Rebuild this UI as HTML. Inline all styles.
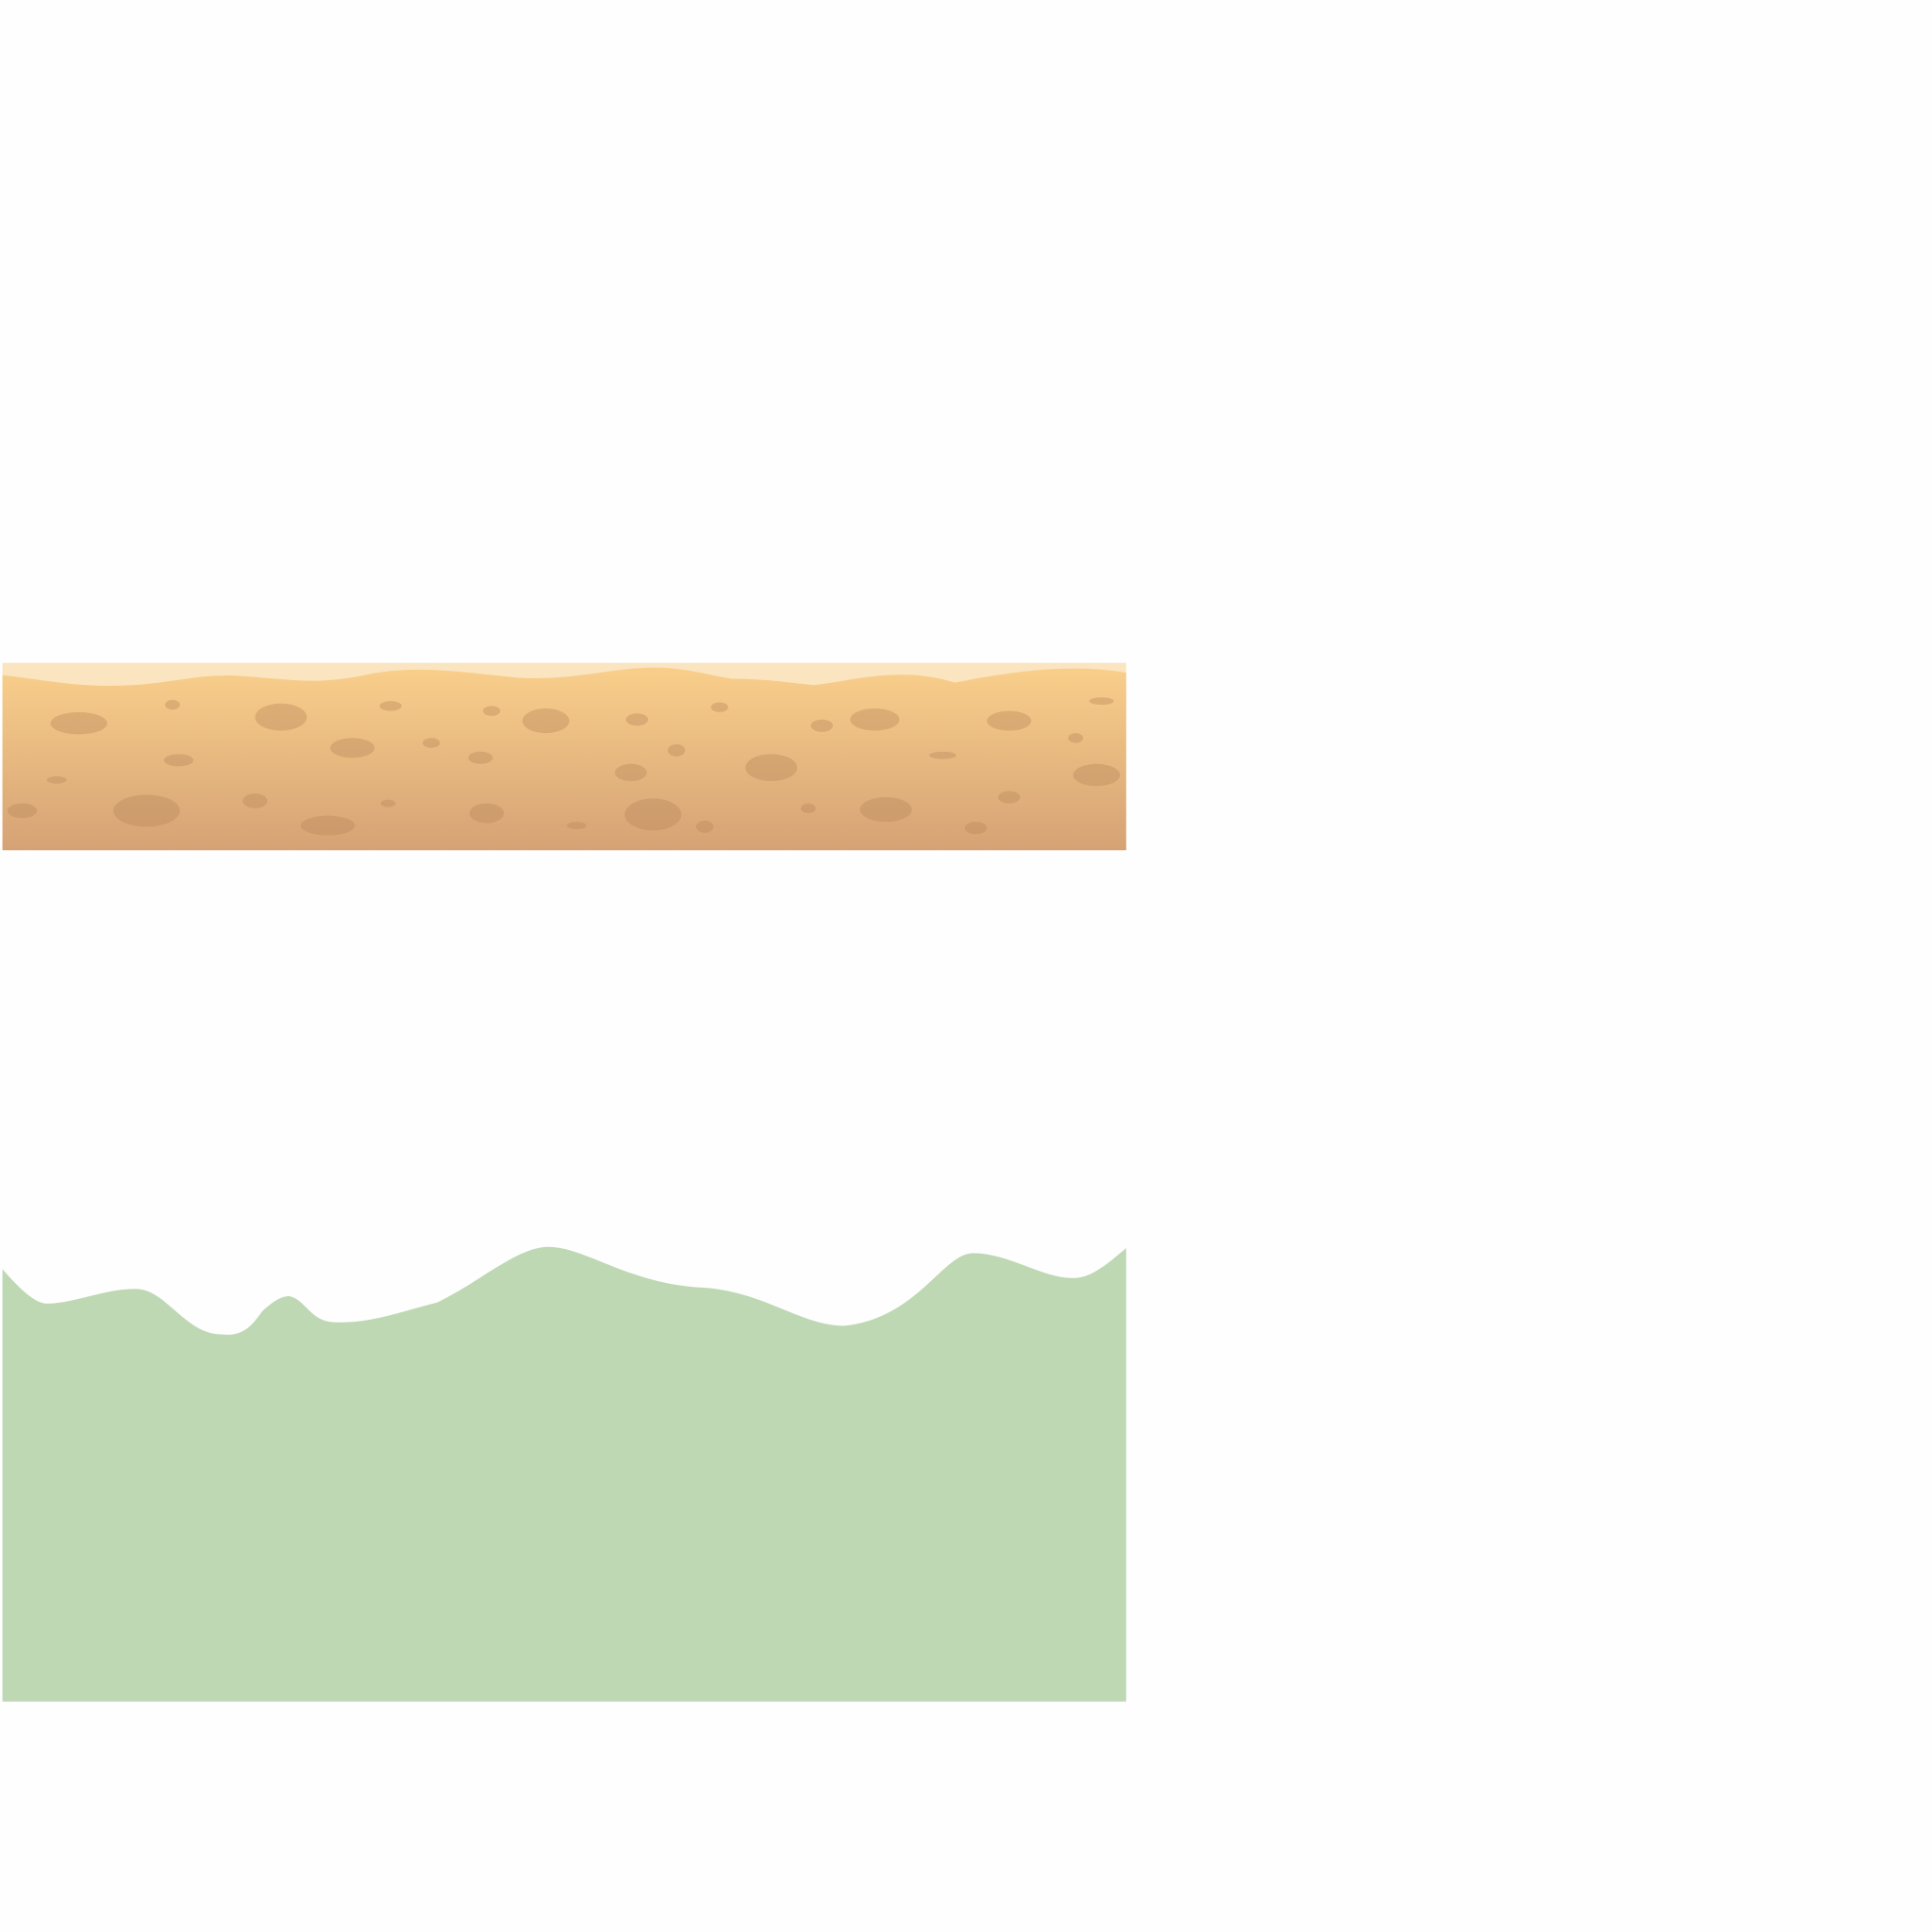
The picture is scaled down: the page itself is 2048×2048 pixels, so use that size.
<!DOCTYPE html>
<html><head><meta charset="utf-8"><style>
html,body{margin:0;padding:0;background:#fefefe;}
svg{display:block;}
</style></head><body>
<svg width="2048" height="2048" viewBox="0 0 2048 2048">
<defs>
<linearGradient id="sand" x1="0" y1="0" x2="0" y2="1">
<stop offset="0" stop-color="#f9cf8b"/>
<stop offset="1" stop-color="#d5a275"/>
</linearGradient>
</defs>
<g transform="scale(1.30612)">
<g>
<rect x="2" y="538" width="912" height="152" fill="#fbe4c0"/>
<path d="M2,548 C40,552 70,560 120,555 C150,552 170,546 200,549 C240,552 260,556 300,547 C340,540 370,545 420,550 C470,553 500,540 540,542 C565,544 580,549 595,551 C620,551 640,554 660,556 C690,553 730,540 775,554 C820,545 870,538 914,546 L914,690 L2,690 Z" fill="url(#sand)"/>
<g id="craters"></g>
</g>
<path fill="#bed8b4" d="M2,1030 C15,1045 28,1058 38,1058 C60,1058 85,1046 110,1046 C135,1046 150,1083 180,1083 C198,1085 205,1075 213,1064 C222,1056 228,1052 235,1052 C248,1055 252,1072 270,1073 C300,1075 330,1063 355,1057 C390,1040 420,1012 445,1012 C475,1012 510,1042 570,1045 C620,1048 650,1076 685,1076 C745,1070 765,1017 790,1017 C820,1017 850,1040 875,1037 C890,1035 905,1020 914,1013 L914,1381 L2,1381 Z"/>
</g>
</svg>
<script>
const cx=[64,140,228,317,399,443,517,584,667,710,819,894,145,286,350,390,549,626,512,765,873,890,46,18,119,207,266,315,395,468,530,572,656,719,819,792];
const cy=[587,572,582,573,577,585,584,574,589,584,585,569,617,607,603,615,609,623,627,613,599,629,633,658,658,650,670,652,660,670,661,671,656,657,647,672];
const rx=[23,6,21,9,7,19,9,7,9,20,18,10,12,18,7,10,7,21,13,11,6,19,8,12,27,10,22,6,14,8,23,7,6,21,9,9];
const ry=[9,4,11,4,4,10,5,4,5,9,8,3,5,8,4,5,5,11,7,3,4,9,3,6,13,6,8,3,8,3,13,5,4,10,5,5];
const g=document.getElementById('craters');
for(let i=0;i<cx.length;i++){
  const e=document.createElementNS('http://www.w3.org/2000/svg','ellipse');
  e.setAttribute('cx',cx[i]);e.setAttribute('cy',cy[i]);
  e.setAttribute('rx',rx[i]);e.setAttribute('ry',ry[i]);
  e.setAttribute('fill','rgba(185,135,90,0.38)');
  
  
  g.appendChild(e);
}
</script>
</body></html>
